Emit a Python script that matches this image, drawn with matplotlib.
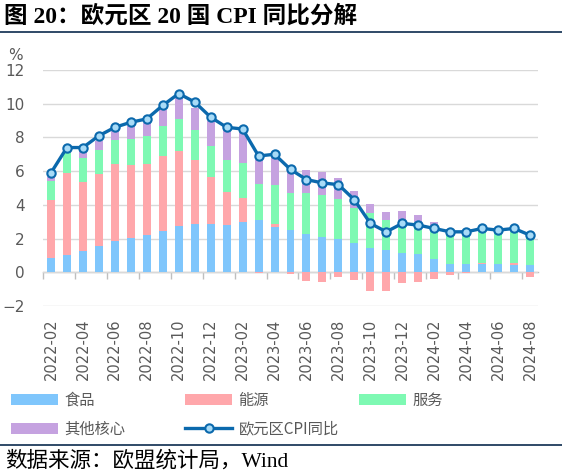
import numpy as np
import matplotlib
matplotlib.use("Agg")
import matplotlib.pyplot as plt
from matplotlib.lines import Line2D
from matplotlib.patches import Patch

plt.rcParams['font.family'] = ['Noto Sans CJK SC', 'DejaVu Sans']

# 数据
months = ["2022-02", "2022-03", "2022-04", "2022-05", "2022-06", "2022-07", "2022-08",
          "2022-09", "2022-10", "2022-11", "2022-12", "2023-01", "2023-02", "2023-03",
          "2023-04", "2023-05", "2023-06", "2023-07", "2023-08", "2023-09", "2023-10",
          "2023-11", "2023-12", "2024-01", "2024-02", "2024-03", "2024-04", "2024-05",
          "2024-06", "2024-07", "2024-08"]
food = [0.86, 1.05, 1.29, 1.55, 1.83, 2.05, 2.19, 2.43, 2.75, 2.85, 2.85, 2.79, 2.97, 3.08,
        2.69, 2.49, 2.29, 2.09, 1.95, 1.75, 1.46, 1.34, 1.16, 1.10, 0.78, 0.52, 0.48, 0.52,
        0.48, 0.46, 0.44]
energy = [3.42, 4.82, 4.08, 4.26, 4.60, 4.30, 4.24, 4.47, 4.47, 3.82, 2.78, 1.97, 1.43, -0.05,
          0.20, -0.10, -0.54, -0.60, -0.30, -0.45, -1.13, -1.13, -0.65, -0.60, -0.37, -0.18,
          -0.06, 0.03, 0.02, 0.12, -0.30]
services = [1.13, 1.19, 1.43, 1.45, 1.43, 1.57, 1.63, 1.80, 1.89, 1.75, 1.87, 1.91, 2.11, 2.18,
            2.26, 2.19, 2.39, 2.49, 2.39, 2.07, 2.06, 1.75, 1.77, 1.89, 1.80, 1.80, 1.67, 1.85,
            1.85, 1.80, 1.85]
other_core = [0.26, 0.16, 0.42, 0.50, 0.50, 0.74, 0.80, 0.95, 1.24, 1.33, 1.46, 1.79, 1.79, 1.41,
              1.72, 1.29, 1.39, 1.37, 1.23, 1.00, 0.52, 0.49, 0.69, 0.39, 0.40, 0.23, 0.23, 0.18,
              0.18, 0.18, 0.10]
cpi = [5.9, 7.4, 7.4, 8.1, 8.6, 8.9, 9.1, 9.9, 10.6, 10.1, 9.2, 8.6, 8.5, 6.9, 7.0, 6.1, 5.5,
       5.3, 5.2, 4.3, 2.9, 2.4, 2.9, 2.8, 2.6, 2.4, 2.4, 2.6, 2.5, 2.6, 2.2]

series = [("食品", food, "#7fc6fc"),
          ("能源", energy, "#ffa7ab"),
          ("服务", services, "#7ef9b3"),
          ("其他核心", other_core, "#c5a2e0")]

fig = plt.figure(figsize=(5.62, 4.76), dpi=100)
ax = fig.add_axes([43 / 562, 1 - 306 / 476, 495 / 562, 236 / 476])

x = np.arange(len(months))
pos_base = np.zeros(len(x))
neg_base = np.zeros(len(x))
handles = {}
for name, vals, color in series:
    v = np.array(vals)
    bottom = np.where(v >= 0, pos_base, neg_base)
    ax.bar(x, v, width=0.5, bottom=bottom, color=color, zorder=2)
    pos_base = pos_base + np.where(v >= 0, v, 0)
    neg_base = neg_base + np.where(v < 0, v, 0)
    handles[name] = Patch(facecolor=color, label=name)

ax.plot(x, cpi, color="#0b69ad", lw=2.4, marker="o", ms=6, mfc="#a8dbf7",
        mec="#0b69ad", mew=1.5, zorder=4)

ax.set_xlim(-0.5, len(x) - 0.5)
ax.set_ylim(-2, 12)
ax.set_yticks(range(-2, 13, 2))
ax.grid(axis="y", color="#d9d9d9", lw=1, zorder=0)
for s in ax.spines.values():
    s.set_visible(False)
ax.tick_params(axis="y", length=0, pad=13, labelsize=11, labelcolor="#595959")
ax.set_xticks(x[::2])
ax.set_xticklabels(months[::2], rotation=90)
ax.tick_params(axis="x", length=0, pad=9, labelsize=10.5, labelcolor="#595959")
for lab in ax.get_xticklabels() + ax.get_yticklabels():
    lab.set_family(['DejaVu Sans'])

# 零轴及刻度
zero_ax = ax.secondary_xaxis(2 / 14)
zero_ax.set_xticks(np.arange(-0.5, len(x) - 1, 2))
zero_ax.set_xticklabels([])
zero_ax.tick_params(length=5, width=1, color="#bfbfbf")
zero_ax.spines["bottom"].set_color("#bfbfbf")
zero_ax.spines["bottom"].set_linewidth(1)

fig.text(15 / 562, 1 - 55 / 476, "%", ha="center", va="center", fontsize=11,
         color="#595959", family=['DejaVu Sans'])

# 图例：三列等宽，逐列放置
line_h = Line2D([], [], color="#0b69ad", lw=2.4, marker="o", ms=6, mfc="#a8dbf7",
                mec="#0b69ad", mew=1.5, label="欧元区CPI同比")
columns = [[handles["食品"], handles["其他核心"]],
           [handles["能源"], line_h],
           [handles["服务"]]]
col_x = [11, 185, 359]
for hs, cx in zip(columns, col_x):
    leg = fig.legend(handles=hs, labels=[h.get_label() for h in hs], ncol=1,
                     loc="upper left", bbox_to_anchor=(cx / 562, 1 - 392 / 476),
                     frameon=False, borderaxespad=0, borderpad=0,
                     handlelength=3.1, handleheight=0.75, handletextpad=0.4,
                     labelspacing=0.75, fontsize=11, labelcolor="#595959")

# 标题与来源
fig.text(4 / 562, 1 - 16 / 476, "图 20：欧元区 20 国 CPI 同比分解", ha="left", va="center",
         fontsize=17, fontweight="bold", color="black",
         family=['Liberation Serif', 'Noto Sans CJK SC'])
fig.add_artist(Line2D([0, 1], [1 - 32 / 476, 1 - 32 / 476], color="#1f3b5c", lw=1.3))
fig.add_artist(Line2D([0, 1], [1 - 445 / 476, 1 - 445 / 476], color="#1f3b5c", lw=1.3))
fig.text(5 / 562, 1 - 461 / 476, "数据来源：欧盟统计局，Wind", ha="left", va="center",
         fontsize=15.5, color="black", family=['Liberation Serif', 'Noto Sans CJK SC'])

fig.savefig("out.png", dpi=100)
